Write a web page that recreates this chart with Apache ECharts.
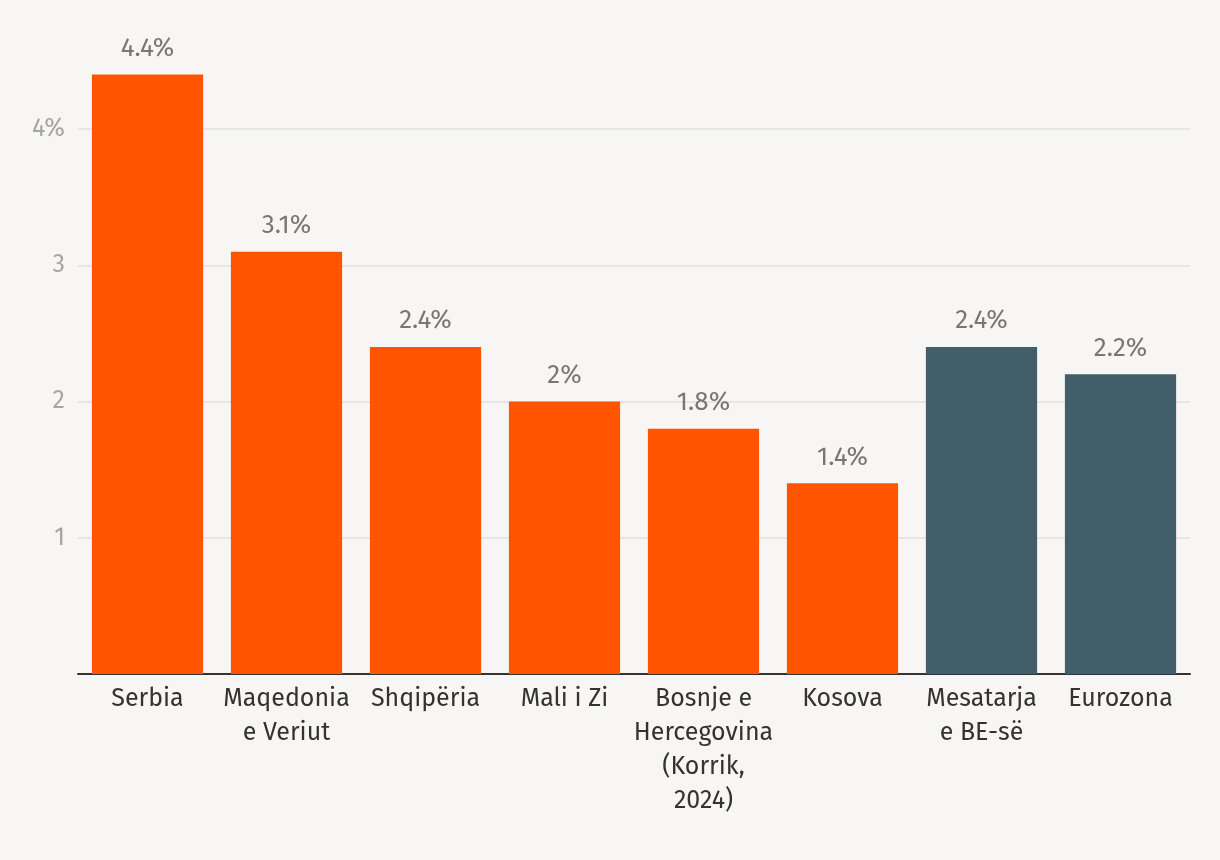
<!DOCTYPE html>
<html>
<head>
<meta charset="utf-8">
<script src="https://cdn.jsdelivr.net/npm/echarts@6/dist/echarts.min.js"></script>
<style>
html,body{margin:0;padding:0;background:#f7f6f4;}
#chart{width:1220px;height:860px;}
</style>
</head>
<body>
<div id="chart"></div>
<script>
const categories = ["Serbia", "Maqedonia\ne Veriut", "Shqipëria", "Mali i Zi", "Bosnje e\nHercegovina\n(Korrik,\n2024)", "Kosova", "Mesatarja\ne BE-së", "Eurozona"];
const values = [4.4, 3.1, 2.4, 2.0, 1.8, 1.4, 2.4, 2.2];
const isAggregate = [false, false, false, false, false, false, true, true];
const yTicks = [1, 2, 3, 4];

const FONT = '"Fira Sans", "Noto Sans", sans-serif';
const chart = echarts.init(document.getElementById('chart'), null, {renderer: 'canvas'});
chart.setOption({
  backgroundColor: '#f7f6f4',
  animation: false,
  grid: {left: 78, right: 30, top: 74.5, bottom: 186, containLabel: false},
  xAxis: {
    type: 'category',
    data: categories,
    axisLine: {lineStyle: {color: '#333333', width: 2}},
    axisTick: {show: false},
    axisLabel: {color: '#333333', fontSize: 25, fontFamily: FONT, lineHeight: 34, margin: 8, interval: 0}
  },
  yAxis: {
    type: 'value',
    min: 0, max: 4.4, interval: 1,
    axisLine: {show: false},
    axisTick: {show: false},
    splitLine: {showMaxLine: false, lineStyle: {color: '#e1e0de', width: 1.5}},
    axisLabel: {
      color: '#a6a6a6', fontSize: 25, fontFamily: FONT, margin: 13, showMaxLabel: false,
      formatter: function (v) {
        if (yTicks.indexOf(v) < 0) return '';
        return v === 4 ? v + '%' : String(v);
      }
    }
  },
  series: [{
    type: 'bar',
    barWidth: '80%',
    data: values.map(function (v, i) {
      return {value: v, itemStyle: {color: isAggregate[i] ? '#415e6a' : '#ff5500'}};
    }),
    label: {
      show: true, position: 'top', distance: 13,
      color: '#777777', fontSize: 26, fontFamily: FONT,
      formatter: function (p) { return p.value + '%'; }
    }
  }]
});
</script>
</body>
</html>
